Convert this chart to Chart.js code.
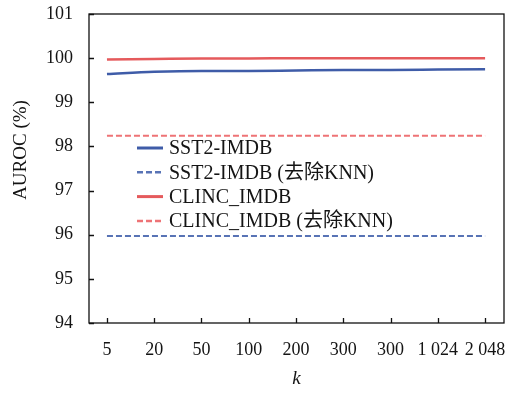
<!DOCTYPE html>
<html>
<head>
<meta charset="utf-8">
<script src="https://cdn.jsdelivr.net/npm/chart.js@4.4.1/dist/chart.umd.min.js"></script>
<style>
    html, body { margin: 0; padding: 0; background: #fff; }
    #wrap { width: 512px; height: 394px; }
</style>
</head>
<body>
<div id="wrap"><canvas id="chart" width="512" height="394"></canvas></div>
<script>
// x categories (k) - the source figure really labels two ticks "300"
const xLabels = ['5', '20', '50', '100', '200', '300', '300', '1 024', '2 048'];
const yTicks = [94, 95, 96, 97, 98, 99, 100, 101];

const sst2 = [99.64, 99.69, 99.71, 99.71, 99.72, 99.73, 99.73, 99.74, 99.75];
const sst2NoKnn = [95.97, 95.97, 95.97, 95.97, 95.97, 95.97, 95.97, 95.97, 95.97];
const clinc = [99.97, 99.98, 99.99, 99.99, 100.0, 100.0, 100.0, 100.0, 100.0];
const clincNoKnn = [98.24, 98.24, 98.24, 98.24, 98.24, 98.24, 98.24, 98.24, 98.24];

const FONT = '"Liberation Serif", "Times New Roman", "Noto Sans CJK SC", serif';
const TEXT = '#141414';

const toPoints = arr => arr.map((v, i) => ({ x: i, y: v }));

// frame, inward ticks, axis title and legend drawn on top of the chart area
const framePlugin = {
    id: 'frame',
    afterDraw(chart) {
        const { ctx, chartArea: a, scales } = chart;
        ctx.save();
        ctx.strokeStyle = '#111';
        ctx.lineWidth = 1.3;
        ctx.strokeRect(a.left, a.top, a.right - a.left, a.bottom - a.top);

        ctx.beginPath();
        yTicks.forEach(v => {
            const y = Math.round(scales.y.getPixelForValue(v)) + 0.5;
            ctx.moveTo(a.left, y);
            ctx.lineTo(a.left + 5, y);
        });
        xLabels.forEach((_, i) => {
            const x = Math.round(scales.x.getPixelForValue(i)) + 0.5;
            ctx.moveTo(x, a.bottom);
            ctx.lineTo(x, a.bottom - 5);
        });
        ctx.stroke();

        // y title
        ctx.fillStyle = TEXT;
        ctx.font = '19px ' + FONT;
        ctx.textAlign = 'center';
        ctx.textBaseline = 'middle';
        ctx.translate(21, 150);
        ctx.rotate(-Math.PI / 2);
        ctx.fillText('AUROC (%)', 0, 0);
        ctx.restore();

        // legend
        ctx.save();
        ctx.font = '20px ' + FONT;
        ctx.textAlign = 'left';
        ctx.textBaseline = 'middle';
        chart.data.datasets.forEach((ds, i) => {
            const y = 148 + i * 24.3;
            ctx.strokeStyle = ds.borderColor;
            ctx.lineWidth = ds.borderWidth + 0.5;
            ctx.setLineDash(ds.borderDash || []);
            ctx.beginPath();
            ctx.moveTo(137, y);
            ctx.lineTo(163, y);
            ctx.stroke();
            ctx.fillStyle = TEXT;
            ctx.fillText(ds.label, 169, y + 1);
        });
        ctx.restore();
    }
};

new Chart(document.getElementById('chart'), {
    type: 'line',
    data: {
        datasets: [
            {
                label: 'SST2-IMDB',
                data: toPoints(sst2),
                borderColor: '#3f5ca8',
                borderWidth: 2.5
            },
            {
                label: 'SST2-IMDB (去除KNN)',
                data: toPoints(sst2NoKnn),
                borderColor: '#5873b5',
                borderWidth: 2,
                borderDash: [6, 3]
            },
            {
                label: 'CLINC_IMDB',
                data: toPoints(clinc),
                borderColor: '#e55a5c',
                borderWidth: 2.5
            },
            {
                label: 'CLINC_IMDB (去除KNN)',
                data: toPoints(clincNoKnn),
                borderColor: '#ee7376',
                borderWidth: 2,
                borderDash: [6, 3]
            }
        ]
    },
    options: {
        responsive: false,
        animation: false,
        devicePixelRatio: 1,
        layout: { padding: { top: 14, right: 8, left: 0, bottom: 0 } },
        elements: {
            point: { radius: 0 },
            line: { cubicInterpolationMode: 'monotone', fill: false }
        },
        plugins: {
            legend: { display: false },
            tooltip: { enabled: false }
        },
        scales: {
            x: {
                type: 'linear',
                min: -0.38,
                max: 8.4,
                afterBuildTicks: axis => {
                    axis.ticks = xLabels.map((_, i) => ({ value: i }));
                },
                afterFit: axis => {
                    axis.height = 71;
                    axis.paddingLeft = 0;
                    axis.paddingRight = 0;
                },
                grid: { display: false, drawTicks: false },
                border: { display: false },
                ticks: {
                    autoSkip: false,
                    maxRotation: 0,
                    padding: 16,
                    color: TEXT,
                    font: { family: FONT, size: 18 },
                    callback: v => xLabels[v]
                },
                title: {
                    display: true,
                    text: 'k',
                    color: TEXT,
                    padding: { top: 7 },
                    font: { family: FONT, size: 19, style: 'italic' }
                }
            },
            y: {
                min: 94,
                max: 101,
                afterBuildTicks: axis => {
                    axis.ticks = yTicks.map(v => ({ value: v }));
                },
                afterFit: axis => {
                    axis.width = 89;
                    axis.paddingTop = 0;
                    axis.paddingBottom = 0;
                },
                grid: { display: false, drawTicks: false },
                border: { display: false },
                ticks: {
                    padding: 16,
                    color: TEXT,
                    font: { family: FONT, size: 18 }
                }
            }
        }
    },
    plugins: [framePlugin]
});
</script>
</body>
</html>
